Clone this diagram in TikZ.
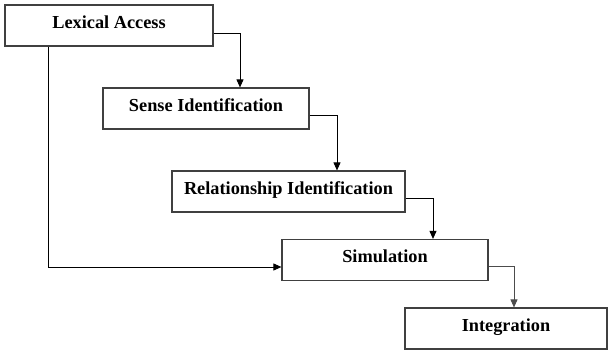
\documentclass[tikz,border=0pt]{standalone}
\usepackage{fontspec}
\setmainfont{Liberation Serif}
\usetikzlibrary{arrows.meta,positioning}

\tikzset{
  stage/.style={draw=black!75,line width=1.2pt,shape=rectangle,inner sep=0pt,
    minimum height=41pt,text height=13pt,text depth=7.2pt,
    font=\fontsize{18.3}{20}\selectfont\bfseries},
  flow/.style={line width=0.9pt,-{Triangle[length=8pt,width=7pt]}}
}

\begin{document}
\begin{tikzpicture}[x=1pt,y=-1pt]
\useasboundingbox[fill=white] (0,0) rectangle (608,352);
\path (109,25.5) node(lex)[stage,minimum width=208pt] {Lexical Access};
\path (206,108.5) node(sense)[stage,minimum width=206pt] {Sense Identification};
\path (288.5,191.5) node(rel)[stage,minimum width=233pt] {Relationship Identification};
\path (385,260) node(sim)[stage,minimum width=206pt] {Simulation};
\path (506,328.5) node(integ)[stage,minimum width=202pt] {Integration};
\draw[flow] ([yshift=-7.5pt]lex.east) -| ([xshift=34pt]sense.north);
\draw[flow] ([yshift=-6.5pt]sense.east) -| ([xshift=48.5pt]rel.north);
\draw[flow] ([yshift=-6.5pt]rel.east) -| ([xshift=48pt]sim.north);
\draw[flow,black!70] ([yshift=-6pt]sim.east) -| ([xshift=8pt]integ.north);
\draw[flow] ([xshift=-61pt]lex.south) |- ([yshift=-7pt]sim.west);
\end{tikzpicture}
\end{document}
